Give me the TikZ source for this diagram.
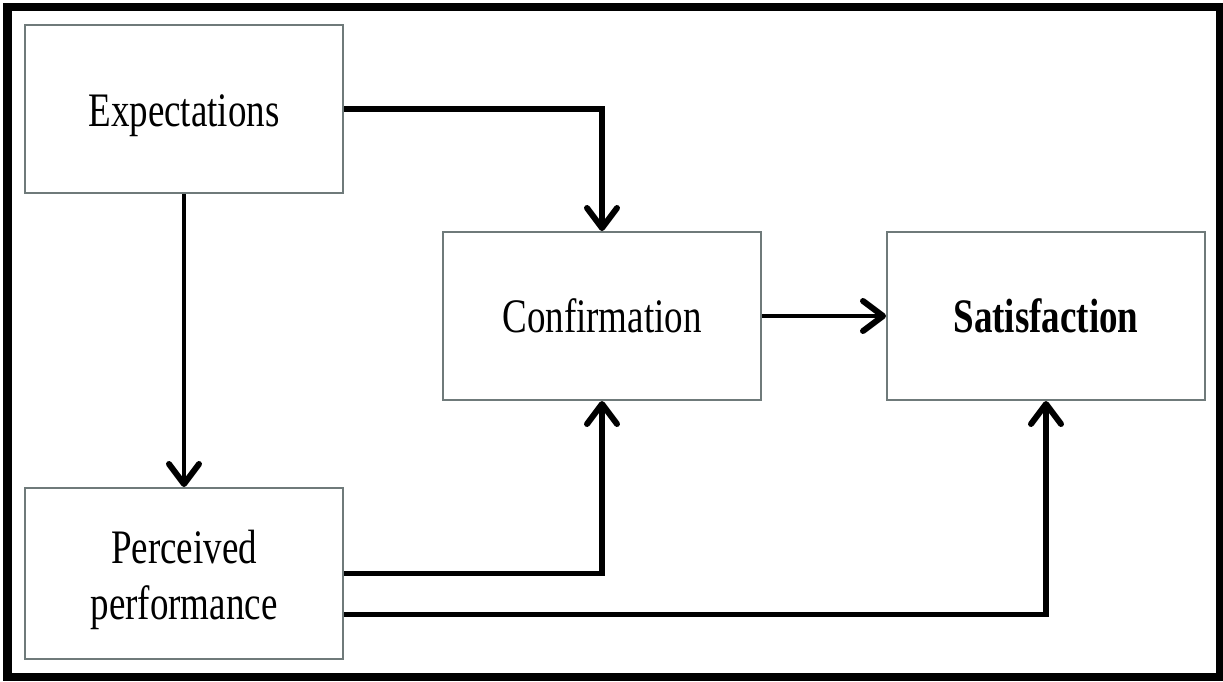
\documentclass[tikz,border=0pt]{standalone}
\usepackage{fontspec}
\setmainfont{Liberation Serif}
\usetikzlibrary{arrows.meta}
\definecolor{boxgray}{HTML}{6F7A7A}
\newcommand{\tallt}[1]{\scalebox{1}[1.3]{#1}}
\begin{document}
\begin{tikzpicture}[x=1pt,y=-1pt,
  box/.style={draw=boxgray,line width=2pt,fill=white,minimum width=318pt,minimum height=168pt,inner sep=0pt,font=\fontsize{37}{43}\selectfont},
  lbl/.style={inner sep=0pt,font=\fontsize{37}{43}\selectfont},
  conn/.style={line width=5.5pt,-{Straight Barb[length=20pt,width=30pt,line width=6pt,round]}},
  connthin/.style={line width=4pt,-{Straight Barb[length=20pt,width=30pt,line width=6pt,round]}}]
\useasboundingbox (0,0) rectangle (1223,681);
\fill[black] (3,3) rectangle (1223,681);
\fill[white] (12,11) rectangle (1216,673);
\node[box] (exp) at (184,109) {};
\node[lbl] (expt) at (184,116) {\tallt{Expectations}};
\node[box,minimum height=171pt] (perc) at (184,573.5) {};
\node[lbl] (perct) at (184,580) {\tallt{\begin{tabular}{@{}c@{}}Perceived\\performance\end{tabular}}};
\node[box] (conf) at (602,316) {\tallt{Confirmation}};
\node[box] (sat) at (1046,316) {\tallt{\textbf{Satisfaction}}};
\draw[conn] (exp.east) -| (conf.north);
\draw[connthin] (exp.south) -- (perc.north);
\draw[connthin] (conf.east) -- (sat.west);
\draw[conn] (perc.east) -| (conf.south);
\draw[conn] ([yshift=-41pt]perc.east) -| (sat.south);
\end{tikzpicture}
\end{document}
